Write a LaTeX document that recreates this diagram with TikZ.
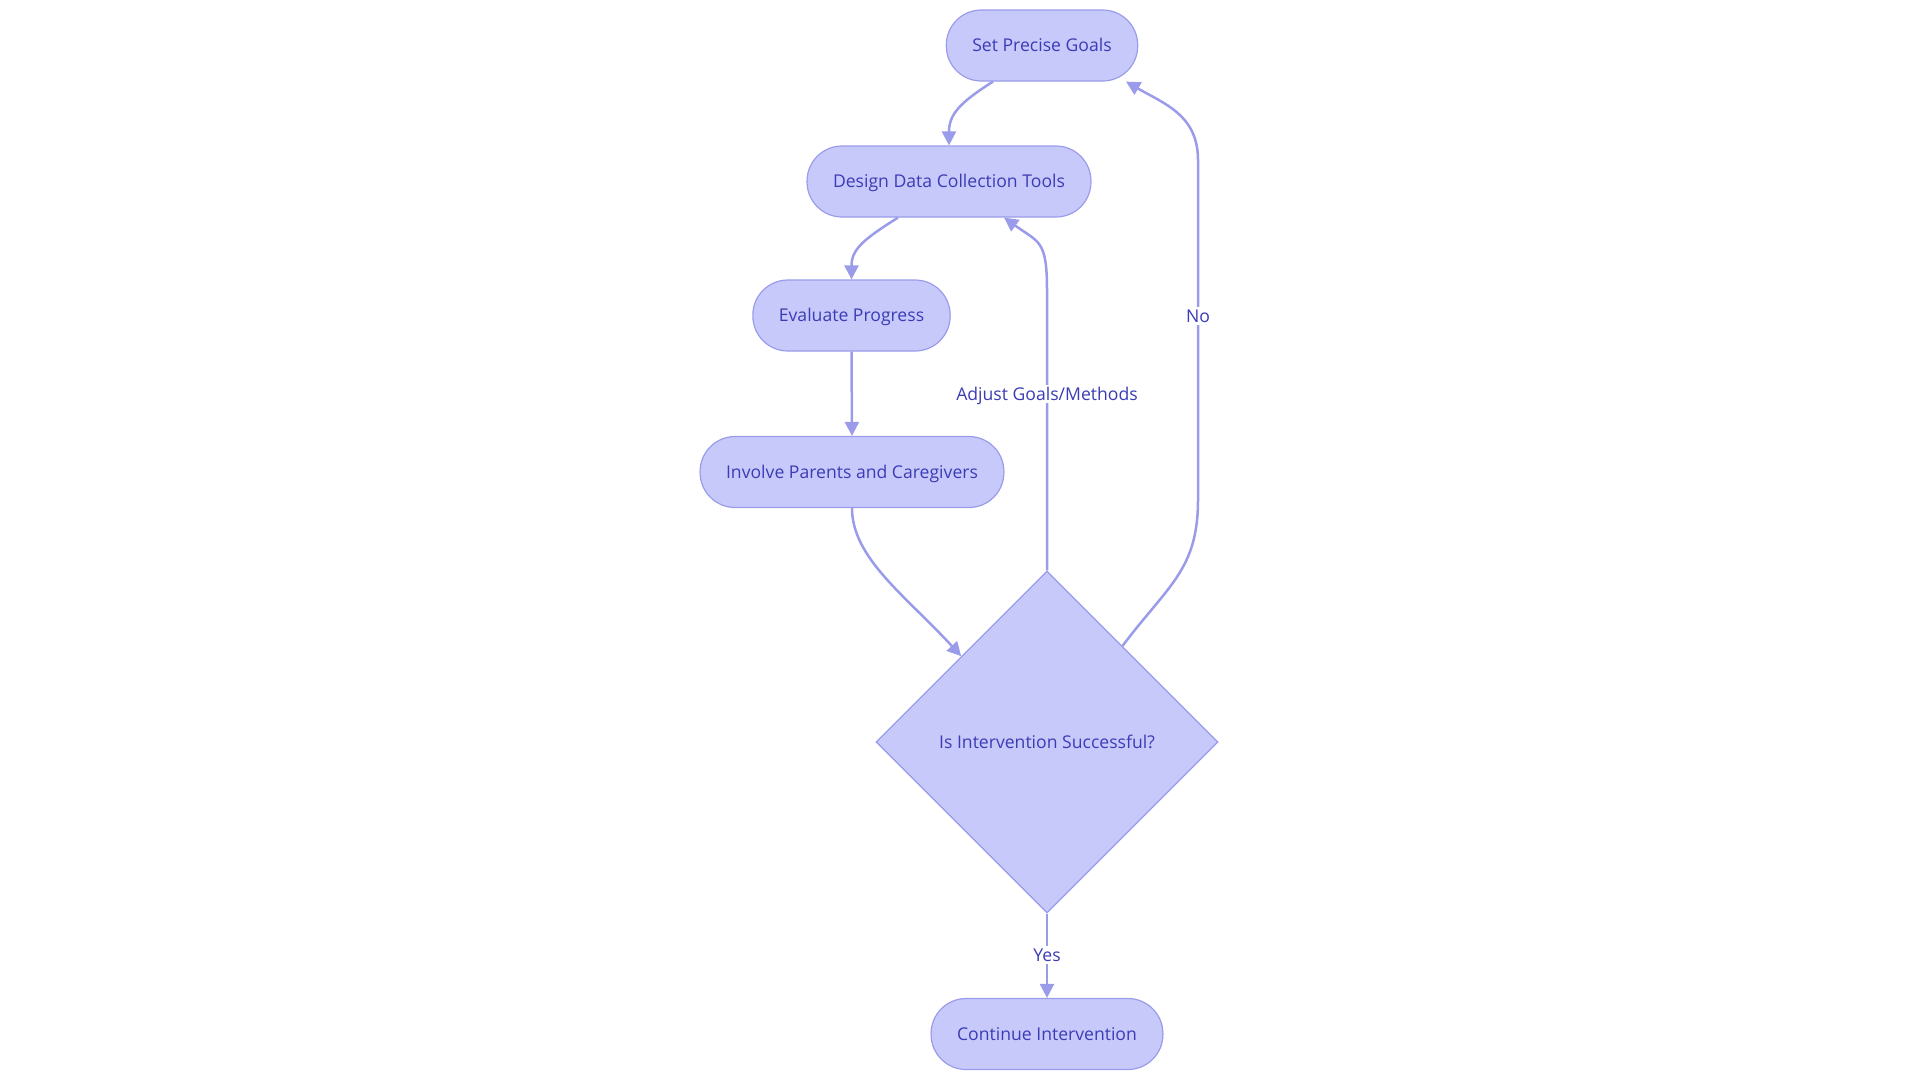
\documentclass[tikz,border=0pt]{standalone}
\usepackage{fontspec}
\setmainfont{Open Sans}
\usepackage{tikz}
\usetikzlibrary{arrows.meta, shapes.geometric, calc}
\definecolor{boxfill}{HTML}{C8C9FB}
\definecolor{boxline}{HTML}{9A9CEA}
\definecolor{boxtext}{HTML}{3B3CB5}
\tikzset{
	stadium/.style={draw=boxline, fill=boxfill, text=boxtext, line width=1.2pt, rounded corners=35pt, minimum height=71pt, inner xsep=26pt, text height=12.6pt, text depth=0pt, font=\fontsize{17.6}{22}\selectfont},
	decision/.style={draw=boxline, fill=boxfill, text=boxtext, line width=1.2pt, diamond, aspect=1, minimum width=342pt, minimum height=342pt, inner sep=0pt, text height=12.6pt, text depth=0pt, font=\fontsize{17.6}{22}\selectfont},
	flow/.style={draw=boxline, line width=2.5pt, -{Triangle[length=14pt, width=14pt]}},
	edgelabel/.style={fill=white, text=boxtext, inner sep=3pt, text height=12.6pt, text depth=0pt, font=\fontsize{17.6}{22}\selectfont}
}
\begin{document}
\begin{tikzpicture}[x=1pt, y=-1pt]
		\useasboundingbox(0, 0)rectangle(1920, 1080);
		\node[stadium](goals)at(1042, 45.5){Set Precise Goals};
		\node[stadium](tools)at(949, 181.5){Design Data Collection Tools};
		\node[stadium](progress)at(851.5, 315.5){Evaluate Progress};
		\node[stadium](parents)at(852, 472){Involve Parents and Caregivers};
		\node[decision](success)at(1047, 742){Is Intervention Successful?};
		\node[stadium](continue)at(1047, 1034){Continue Intervention};
		% forward steps
		\draw[flow]($(goals.south)+(-49, 0)$) .. controls +(-35, 22) and +(0, -30) .. (tools.north);
		\draw[flow]($(tools.south)+(-51, 0)$) .. controls +(-35, 22) and +(0, -30) .. (progress.north);
		\draw[flow](progress.south)--(parents.north);
		\draw[flow](parents.south) .. controls +(0, 50) and +(-55, -60) .. (success.north west);
		% back edges
		\draw[flow](success.north)--(1047, 290) .. controls +(0, -50) and +(35, 25) .. ($(tools.south)+(55, 0)$);
		\node[edgelabel](adjust)at(1047, 394){Adjust Goals/Methods};
		\draw[flow]($(success.north)!0.44!(success.east)$) .. controls +(45, -60) and +(0, 70) .. (1198, 500)--(1198, 160) .. controls +(0, -45) and +(38, 22) .. ($(goals.south)+(84, 0)$);
		\node[edgelabel](no)at(1198, 316){No};
		\draw[flow](success.south)--(continue.north);
		\node[edgelabel](yes)at(1047, 955){Yes};
\end{tikzpicture}
\end{document}
